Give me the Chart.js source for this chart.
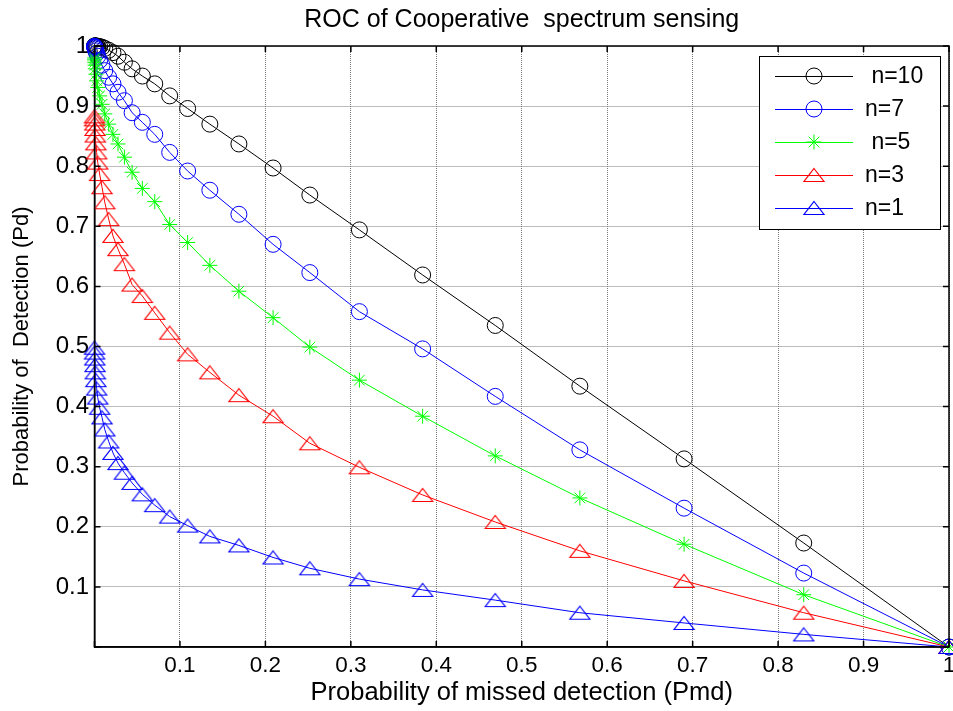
<!DOCTYPE html>
<html><head><meta charset="utf-8">
<script src="https://cdn.jsdelivr.net/npm/chart.js@4/dist/chart.umd.min.js"></script>
<style>html,body{margin:0;padding:0;background:#fff;}#wrap{width:953px;height:711px;}</style>
</head><body><div id="wrap"><canvas id="c" width="953" height="711"></canvas></div>
<script>
// ---- data ----
const titleText = 'ROC of Cooperative  spectrum sensing';
const xAxisTitle = 'Probability of missed detection (Pmd)';
const yAxisTitle = 'Probability of  Detection (Pd)';
const seriesLabels = [' n=10', 'n=7', ' n=5', 'n=3', 'n=1'];

const pmd = [1, 0.830, 0.690, 0.568, 0.469, 0.384, 0.310, 0.252, 0.209, 0.169, 0.135,
  0.109, 0.088, 0.0705, 0.056, 0.044, 0.035, 0.0275, 0.0216, 0.0166, 0.0120,
  0.0088, 0.0060, 0.0038, 0.0025, 0.0016, 0.0010, 0.0006, 0.0003, 0.0001, 0.00005, 0];
const pdN10 = [0, 0.173, 0.313, 0.434, 0.535, 0.619, 0.694, 0.752, 0.797, 0.837, 0.870,
  0.896, 0.917, 0.937, 0.950, 0.962, 0.973, 0.983, 0.989, 0.993, 0.996,
  0.998, 0.999, 0.9995, 1, 1, 1, 1, 1, 1, 1, 1];
const pdN7 = [0, 0.123, 0.231, 0.328, 0.417, 0.496, 0.558, 0.623, 0.670, 0.720, 0.760,
  0.792, 0.823, 0.853, 0.873, 0.889, 0.909, 0.923, 0.937, 0.948, 0.959,
  0.968, 0.976, 0.983, 0.988, 0.992, 0.995, 0.997, 0.998, 0.999, 0.9995, 1];
const pdN5 = [0, 0.087, 0.171, 0.248, 0.318, 0.384, 0.444, 0.499, 0.548, 0.592, 0.635,
  0.673, 0.703, 0.741, 0.763, 0.790, 0.815, 0.837, 0.853, 0.870, 0.887,
  0.903, 0.917, 0.931, 0.942, 0.953, 0.962, 0.968, 0.973, 0.977, 0.980, 1];
const pdN3 = [0, 0.057, 0.110, 0.160, 0.208, 0.253, 0.299, 0.339, 0.384, 0.419, 0.457,
  0.487, 0.523, 0.556, 0.584, 0.603, 0.637, 0.662, 0.684, 0.712, 0.740,
  0.765, 0.787, 0.806, 0.823, 0.838, 0.851, 0.862, 0.871, 0.878, 0.883, 1];
const pdN1 = [0, 0.021, 0.040, 0.057, 0.078, 0.095, 0.113, 0.131, 0.149, 0.169, 0.184,
  0.202, 0.217, 0.236, 0.254, 0.273, 0.290, 0.306, 0.323, 0.342, 0.362,
  0.382, 0.398, 0.415, 0.430, 0.444, 0.457, 0.469, 0.480, 0.490, 0.498, 1];

const xTickValues = [0, 0.1, 0.2, 0.3, 0.4, 0.5, 0.6, 0.7, 0.8, 0.9, 1];
const xTickLabels = ['', '0.1', '0.2', '0.3', '0.4', '0.5', '0.6', '0.7', '0.8', '0.9', '1'];
const yTickValues = [0, 0.1, 0.2, 0.3, 0.4, 0.5, 0.6, 0.7, 0.8, 0.9, 1];
const yTickLabels = ['', '0.1', '0.2', '0.3', '0.4', '0.5', '0.6', '0.7', '0.8', '0.9', '1'];

// ---- styling ----
const FONT = '"Liberation Sans", Arial, sans-serif';
function triangleMarker(color) {
  const c = document.createElement('canvas');
  c.width = 24; c.height = 18;
  const g = c.getContext('2d');
  g.strokeStyle = color; g.lineWidth = 1.2;
  g.beginPath();
  g.moveTo(12, 2.5); g.lineTo(22, 15.5); g.lineTo(2, 15.5); g.closePath();
  g.stroke();
  return c;
}
const seriesStyle = [
  {color: '#000000', pointStyle: 'circle', radius: 8},
  {color: '#0000ff', pointStyle: 'circle', radius: 8},
  {color: '#00ff00', pointStyle: 'star', radius: 7.5},
  {color: '#ff0000', pointStyle: triangleMarker('#ff0000'), radius: 8},
  {color: '#0000ff', pointStyle: triangleMarker('#0000ff'), radius: 8}
];
const seriesData = [pdN10, pdN7, pdN5, pdN3, pdN1];

const datasets = seriesData.map((arr, k) => ({
  label: seriesLabels[k],
  data: pmd.map((x, i) => ({x: x, y: arr[i]})),
  borderColor: seriesStyle[k].color,
  backgroundColor: 'rgba(0,0,0,0)',
  borderWidth: 1,
  pointStyle: seriesStyle[k].pointStyle,
  pointRadius: ctx => (ctx.dataIndex === pmd.length - 1 ? 0 : seriesStyle[k].radius),
  pointBorderColor: seriesStyle[k].color,
  pointBackgroundColor: 'rgba(0,0,0,0)',
  pointBorderWidth: 1,
  tension: 0,
  clip: false,
  order: 5 - k
}));

const boxAndTicks = {
  id: 'boxAndTicks',
  afterDatasetsDraw(chart) {
    const {ctx, chartArea: a, scales: {x, y}} = chart;
    ctx.save();
    ctx.strokeStyle = '#000';
    ctx.lineWidth = 1.5;
    ctx.strokeRect(a.left, a.top, a.right - a.left, a.bottom - a.top);
    ctx.beginPath();
    xTickValues.forEach(v => {
      const px = x.getPixelForValue(v);
      ctx.moveTo(px, a.bottom); ctx.lineTo(px, a.bottom - 6);
      ctx.moveTo(px, a.top); ctx.lineTo(px, a.top + 6);
    });
    yTickValues.forEach(v => {
      const py = y.getPixelForValue(v);
      ctx.moveTo(a.left, py); ctx.lineTo(a.left + 6, py);
      ctx.moveTo(a.right, py); ctx.lineTo(a.right - 6, py);
    });
    ctx.stroke();
    ctx.restore();
  }
};

const boxLegend = {
  id: 'boxLegend',
  afterDraw(chart) {
    const {ctx} = chart;
    const L = 759, T = 56, R = 940, B = 229;
    ctx.save();
    ctx.fillStyle = '#fff';
    ctx.fillRect(L, T, R - L, B - T);
    ctx.strokeStyle = '#000';
    ctx.lineWidth = 1;
    ctx.strokeRect(L + 0.5, T + 0.5, R - L, B - T);
    const rowY = [76, 109, 142, 175, 208];
    chart.data.datasets.forEach((ds, i) => {
      const yy = rowY[i];
      ctx.strokeStyle = ds.borderColor;
      ctx.lineWidth = 1;
      ctx.beginPath(); ctx.moveTo(775, yy + 0.5); ctx.lineTo(853, yy + 0.5); ctx.stroke();
      ctx.fillStyle = 'rgba(0,0,0,0)';
      Chart.helpers.drawPoint(ctx, {pointStyle: ds.pointStyle, radius: seriesStyle[i].radius, rotation: 0, borderWidth: 1}, 814, yy);
      ctx.fillStyle = '#000';
      ctx.font = '23px ' + FONT;
      ctx.textBaseline = 'middle';
      ctx.textAlign = 'left';
      ctx.fillText(ds.label, 865, yy + 1);
    });
    ctx.restore();
  }
};

new Chart(document.getElementById('c'), {
  type: 'line',
  data: {datasets: datasets},
  options: {
    responsive: false,
    animation: false,
    devicePixelRatio: 1,
    events: [],
    layout: {autoPadding: false, padding: {left: 0, right: 4, top: 0, bottom: 0}},
    plugins: {
      legend: {display: false},
      tooltip: {enabled: false},
      title: {
        display: true, text: titleText, color: '#000', fullSize: false,
        font: {family: FONT, size: 25, weight: 'normal', lineHeight: 1.1},
        padding: {top: 6.5, bottom: 12}
      }
    },
    scales: {
      x: {
        type: 'linear', min: 0, max: 1,
        afterBuildTicks: s => { s.ticks = xTickValues.map(v => ({value: v})); },
        afterFit: s => { s.height = 64; s.paddingLeft = 0; s.paddingRight = 0; },
        ticks: {
          callback: (v, i) => xTickLabels[i], color: '#000', padding: 4.8,
          maxRotation: 0, autoSkip: false,
          font: {family: FONT, size: 22.5, lineHeight: 1.2}
        },
        grid: {color: '#7a7a7a', lineWidth: 1, drawTicks: false},
        border: {display: true, color: '#000', width: 1.5, dash: [1, 1]},
        title: {
          display: true, text: xAxisTitle, color: '#000',
          font: {family: FONT, size: 25.5, lineHeight: 1.2},
          padding: {top: 0, bottom: 3}
        }
      },
      y: {
        type: 'linear', min: 0, max: 1,
        afterBuildTicks: s => { s.ticks = yTickValues.map(v => ({value: v})); },
        afterFit: s => { s.width = 94.5; s.paddingTop = 0; s.paddingBottom = 0; },
        ticks: {
          callback: (v, i) => yTickLabels[i], color: '#000', padding: 5.5,
          autoSkip: false,
          font: {family: FONT, size: 24, lineHeight: 1.2}
        },
        grid: {color: '#7a7a7a', lineWidth: 1, drawTicks: false},
        border: {display: true, color: '#000', width: 1.5, dash: [1, 1]},
        title: {
          display: true, text: yAxisTitle, color: '#000',
          font: {family: FONT, size: 22, lineHeight: 1.2},
          padding: {top: 9, bottom: 0}
        }
      }
    }
  },
  plugins: [boxAndTicks, boxLegend]
});
</script>
</body></html>
